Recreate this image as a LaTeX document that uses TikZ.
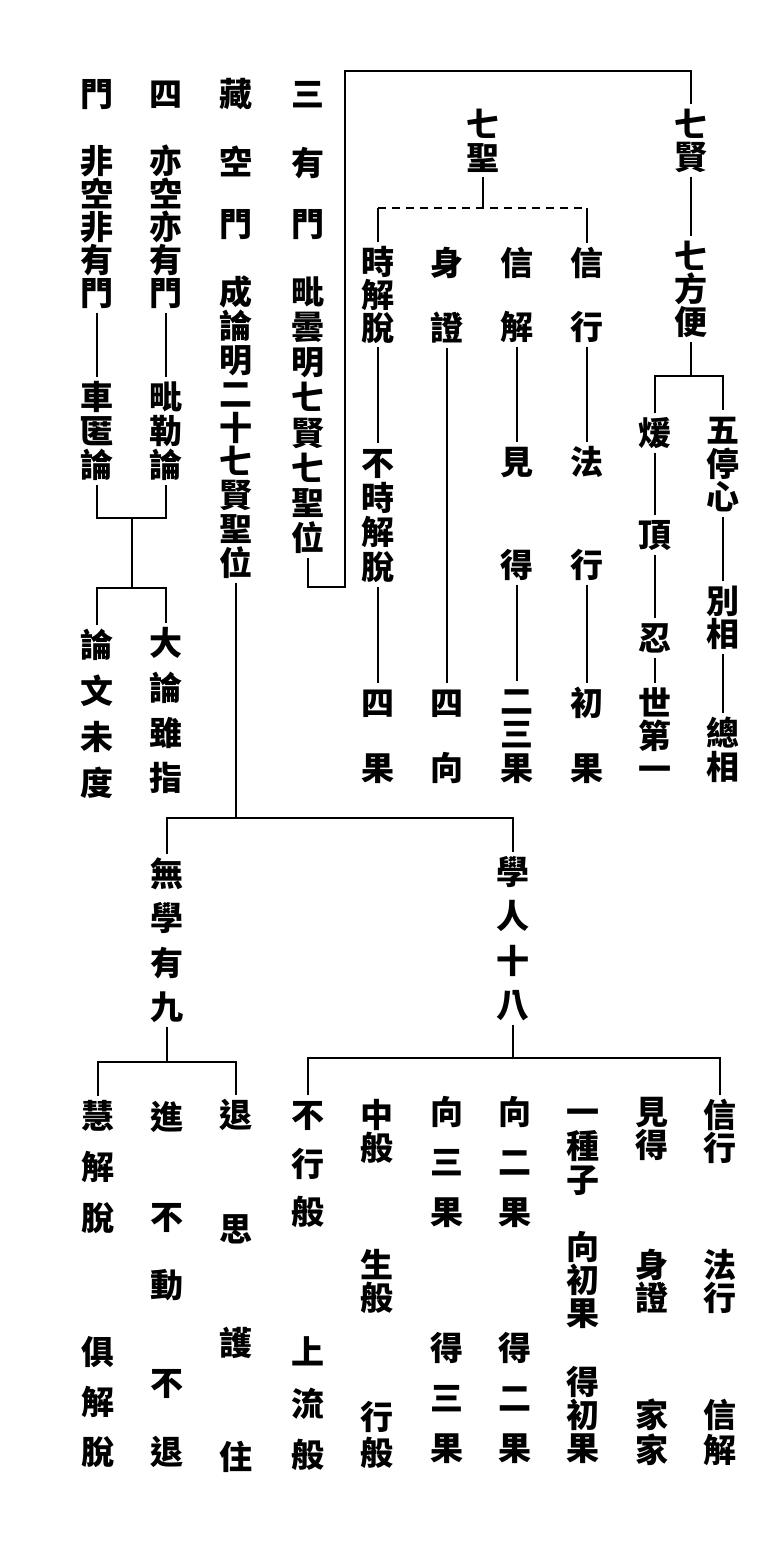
\documentclass[tikz,border=0pt]{standalone}
\usepackage{fontspec}
\newfontfamily\cjk{Noto Sans CJK TC}
\usetikzlibrary{positioning,calc}
\newcommand\zistrut{\rule[-4pt]{0pt}{33pt}}
% vertical column of characters, optional arg = pitch in pt
\ExplSyntaxOn
\NewDocumentCommand\shu{O{34}m}{
  \vbox{\baselineskip=#1pt \lineskiplimit=-\maxdimen
    \tl_map_inline:nn {#2}{\hbox{\zistrut ##1}}}
}
\ExplSyntaxOff
\tikzset{
zi/.style   = {font=\cjk\bfseries\fontsize{33}{34}\selectfont, inner sep=3pt},
xian/.style = {line width=2.2pt},
xuxian/.style = {line width=1.8pt, dash pattern=on 8pt off 6pt}
}

\begin{document}
\begin{tikzpicture}[x=1pt, y=-1pt]
  \useasboundingbox (0,0) rectangle (784,1552);

  % title row, read right to left
  \foreach \c/\x/\n in {三/308/tsan, 藏/236/tcang, 四/166/tsi, 門/97/tmen}
    \node [zi] (\n) at (\x,94) {\shu{\c}};

  % four gates
  \node [zi] (youmen)   at (308,193.5) {\shu[61]{有門}};
  \node [zi] (kongmen)  at (236,193)   {\shu[62]{空門}};
  \node [zi] (yikong)   at (166,227)   {\shu[33]{亦空亦有門}};
  \node [zi] (feikong)  at (97,227)    {\shu[33]{非空非有門}};
  \node [zi] (pitan)    at (308,415)   {\shu[35.1]{毗曇明七賢七聖位}};
  \node [zi] (chenglun) at (236,427.5) {\shu[33.9]{成論明二十七賢聖位}};
  \node [zi] (pile)     at (166,431)   {\shu[34]{毗勒論}};
  \node [zi] (cheni)    at (97,431)    {\shu[34]{車匿論}};
  \node [zi] (dalun)    at (166,710)   {\shu[45]{大論雖指}};
  \node [zi] (lunwen)   at (97,714)    {\shu[46]{論文未度}};

  % seven sages
  \node [zi] (qisheng)   at (483,141)   {\shu[33]{七聖}};
  \node [zi] (shijietuo) at (378,294.5) {\shu[33]{時解脫}};
  \node [zi] (shenzheng) at (447,295.5) {\shu[65]{身證}};
  \node [zi] (xinjie)    at (517,295)   {\shu[64]{信解}};
  \node [zi] (xinxing)   at (587,295)   {\shu[64]{信行}};
  \node [zi] (bushi)     at (378,515)   {\shu[34.7]{不時解脫}};
  \node [zi] (jiande)    at (517,513.5) {\shu[103]{見得}};
  \node [zi] (faxing)    at (587,513.5) {\shu[103]{法行}};
  \node [zi] (siguo)     at (378,735.5) {\shu[65]{四果}};
  \node [zi] (sixiang)   at (447,735.5) {\shu[65]{四向}};
  \node [zi] (ersan)     at (517,734)   {\shu[33.5]{二三果}};
  \node [zi] (chuguo)    at (587,735.5) {\shu[65]{初果}};

  % seven worthies
  \node [zi] (qixian)    at (691,140.5) {\shu[33]{七賢}};
  \node [zi] (qifb)      at (691,289)   {\shu[33]{七方便}};
  \node [zi] (wuting)    at (723,463.5) {\shu[33.5]{五停心}};
  \node [zi] (biexiang)  at (723,617.5) {\shu[33]{別相}};
  \node [zi] (zongxiang) at (723,750)   {\shu[34]{總相}};
  \node [zi] (nuan)      at (655,433)   {\shu{煖}};
  \node [zi] (ding)      at (655,535)   {\shu{頂}};
  \node [zi] (ren)       at (655,638)   {\shu{忍}};
  \node [zi] (shidi)     at (655,735.5) {\shu[33]{世第一}};

  % twenty-seven
  \node [zi] (wuxue)     at (167,940.5) {\shu[44.3]{無學有九}};
  \node [zi] (xueren)    at (513,938.5) {\shu[44.3]{學人十八}};

  \node [zi] (huijie)    at (98,1166.5) {\shu[51]{慧解脫}};
  \node [zi] (jujie)     at (98,1402)   {\shu[50]{俱解脫}};
  \node [zi] (jin)       at (167,1117)  {\shu{進}};
  \node [zi] (budong)    at (167,1251)  {\shu[68]{不動}};
  \node [zi] (butui)     at (167,1417.5) {\shu[69]{不退}};
  \node [zi] (tuisi)     at (236,1286)  {\shu[114]{退思護住}};

  \node [zi] (buxing)     at (308,1163.5) {\shu[48.5]{不行般}};
  \node [zi] (shangliu)   at (308,1403.5) {\shu[51.5]{上流般}};
  \node [zi] (zhongban)   at (377,1131.5) {\shu[33]{中般}};
  \node [zi] (shengban)   at (377,1281.5) {\shu[33]{生般}};
  \node [zi] (xingban)    at (377,1435)   {\shu[36]{行般}};
  \node [zi] (xiangsan)   at (447,1162)   {\shu[50]{向三果}};
  \node [zi] (desan)      at (447,1398)   {\shu[50]{得三果}};
  \node [zi] (xianger)    at (515,1162)   {\shu[50]{向二果}};
  \node [zi] (deer)       at (515,1398)   {\shu[50]{得二果}};
  \node [zi] (yizhong)    at (583,1146)   {\shu[34]{一種子}};
  \node [zi] (xiangchu)   at (583,1280)   {\shu[33]{向初果}};
  \node [zi] (dechu)      at (583,1414.5) {\shu[33]{得初果}};
  \node [zi] (jiande2)    at (652,1128.5) {\shu[33]{見得}};
  \node [zi] (shenzheng2) at (652,1281.5) {\shu[33]{身證}};
  \node [zi] (jiajia)     at (652,1432.5) {\shu[35]{家家}};
  \node [zi] (xinxing2)   at (720,1131)   {\shu[33]{信行}};
  \node [zi] (faxing2)    at (720,1281.5) {\shu[33]{法行}};
  \node [zi] (xinjie2)    at (720,1432.5) {\shu[35]{信解}};

  % bracket corners
  \coordinate (kb)  at (345,587);
  \coordinate (kt)  at (345,71);
  \coordinate (fb)  at (691,376);
  \coordinate (sb)  at (483,208);
  \coordinate (lb1) at (132,518);
  \coordinate (lb2) at (132,588);
  \coordinate (cb)  at (236,818);
  \coordinate (wb)  at (167,1062);
  \coordinate (xb)  at (513,1058);

  % frame round the seven worthies and sages
  \draw [xian] (pitan.south) |- (kb) -- (kt) -| (qixian.north);
  \draw [xian] (qixian) -- (qifb);
  \draw [xian] (qifb.south) -- (fb);
  \draw [xian] (nuan.north) |- (fb) -| (wuting.north);
  \draw [xian] (wuting) -- (biexiang);
  \draw [xian] (biexiang) -- (zongxiang);
  \draw [xian] (nuan) -- (ding);
  \draw [xian] (ding) -- (ren);
  \draw [xian] (ren) -- (shidi);

  \draw [xian] (qisheng.south) -- (sb);
  \draw [xuxian] (shijietuo.north |- sb) -- (xinxing.north |- sb);
  \draw [xian] (shijietuo.north |- sb) -- (shijietuo.north);
  \draw [xian] (xinxing.north |- sb) -- (xinxing.north);
  \draw [xian] (shijietuo) -- (bushi);
  \draw [xian] (bushi) -- (siguo);
  \draw [xian] (shenzheng) -- (sixiang);
  \draw [xian] (xinjie) -- (jiande);
  \draw [xian] (jiande) -- (ersan);
  \draw [xian] (xinxing) -- (faxing);
  \draw [xian] (faxing) -- (chuguo);

  \draw [xian] (yikong) -- (pile);
  \draw [xian] (feikong) -- (cheni);
  \draw [xian] (cheni.south) |- (lb1) -| (pile.south);
  \draw [xian] (lb1) -- (lb2);
  \draw [xian] (lunwen.north) |- (lb2) -| (dalun.north);

  \draw [xian] (chenglun.south) -- (cb);
  \draw [xian] (wuxue.north) |- (cb) -| (xueren.north);
  \draw [xian] (wuxue.south) -- (wb);
  \draw [xian] (huijie.north) |- (wb) -| (tuisi.north);
  \draw [xian] (xueren.south) -- (xb);
  \draw [xian] (buxing.north) |- (xb) -| (xinxing2.north);
\end{tikzpicture}
\end{document}
